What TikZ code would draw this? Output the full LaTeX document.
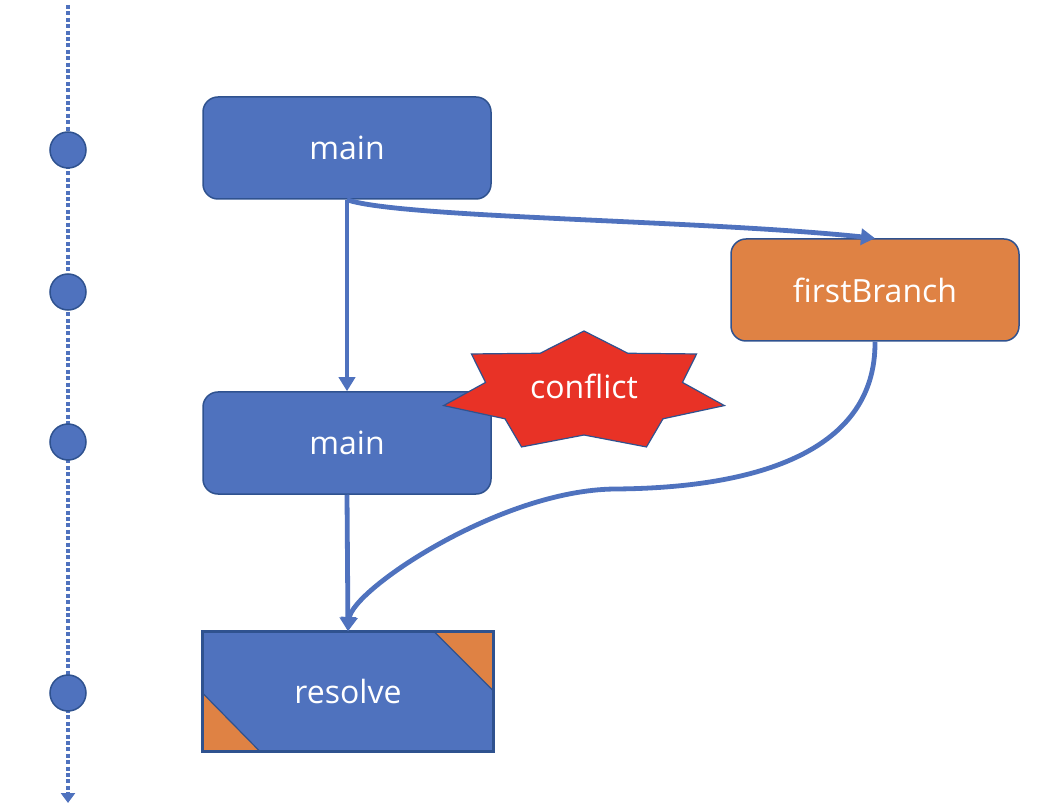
\documentclass[tikz,border=0pt]{standalone}
\usepackage{fontspec}
\setmainfont{Open Sans}
\usetikzlibrary{arrows.meta}
\definecolor{boxblue}{RGB}{79,114,190}
\definecolor{edgeblue}{RGB}{47,82,143}
\definecolor{branchorange}{RGB}{223,130,68}
\definecolor{conflictred}{RGB}{232,50,38}
\tikzset{
  commit/.style={rectangle, rounded corners=7.5pt, fill=boxblue, draw=edgeblue,
    line width=0.75pt, minimum width=144pt, minimum height=51pt,
    text=white, font=\fontsize{16}{19}\selectfont},
  branchbox/.style={commit, fill=branchorange},
  resolvebox/.style={commit, rounded corners=0pt, minimum width=145pt, minimum height=59.5pt, draw=none},
  tldot/.style={circle, fill=boxblue, draw=edgeblue, line width=0.75pt, minimum size=18pt, inner sep=0pt},
  flow/.style={draw=boxblue, line width=2.4pt, -{Triangle[width=8pt,length=7pt]}},
}
\begin{document}
\begin{tikzpicture}[x=0.5pt, y=-0.5pt]
      \useasboundingbox (0,0) rectangle (1038,812);
      % time line
      \coordinate (tlstart) at (68,5);
      \coordinate (tlend) at (68,803);
      \draw[boxblue, line width=2pt, dash pattern=on 2pt off 1.2pt,
        -{Triangle[width=7pt,length=5pt]}] (tlstart) -- (tlend);
      \node[tldot] (t1) at (68,150) {};
      \node[tldot] (t2) at (68,292) {};
      \node[tldot] (t3) at (68,442) {};
      \node[tldot] (t4) at (68,693) {};
      % commits
      \node[commit] (main1) at (347,148) {main};
      \node[branchbox] (branch) at (875,290) {firstBranch};
      \node[commit] (main2) at (347,443) {main};
      \node[resolvebox] (resolve) at (348,691.5) {resolve};
      \fill[branchorange] (resolve.north east) -- ++(-60,0) -- ++(60,60) -- cycle;
      \fill[branchorange] (resolve.south west) -- ++(58,0) -- ++(-58,-59) -- cycle;
      \draw[edgeblue, line width=0.6pt] (resolve.north east) ++(-60,0) -- ++(60,60);
      \draw[edgeblue, line width=0.6pt] (resolve.south west) ++(58,0) -- ++(-58,-59);
      \draw[edgeblue, line width=1.5pt] (resolve.south west) rectangle (resolve.north east);
      % conflict
      \begin{scope}[shift={(584,392)}]
        \draw[fill=conflictred, draw=edgeblue, line width=0.6pt] (-90:{144} and {61})
          \foreach \k [evaluate=\k as \rx using {mod(\k,2)==1 ? 101 : 144},
                       evaluate=\k as \ry using {mod(\k,2)==1 ? 43 : 61}] in {1,...,13}
          { -- ({-90+\k*360/14}:{\rx} and {\ry}) } -- cycle;
      \end{scope}
      \node[text=white, font=\fontsize{16}{19}\selectfont] (conflict) at (584,386) {conflict};
      \begin{scope}[flow]
        \draw (main1.south) -- (main2.north);
        \draw (main1.south) .. controls (400,218) and (700,220) .. (branch.north);
        \draw (main2.south) -- (resolve.north);
        \draw (branch.south) .. controls (876,450) and (760,488) .. (615,489)
          .. controls (500,490) and (352,590) .. (resolve.north);
      \end{scope}
    \end{tikzpicture}
\end{document}
